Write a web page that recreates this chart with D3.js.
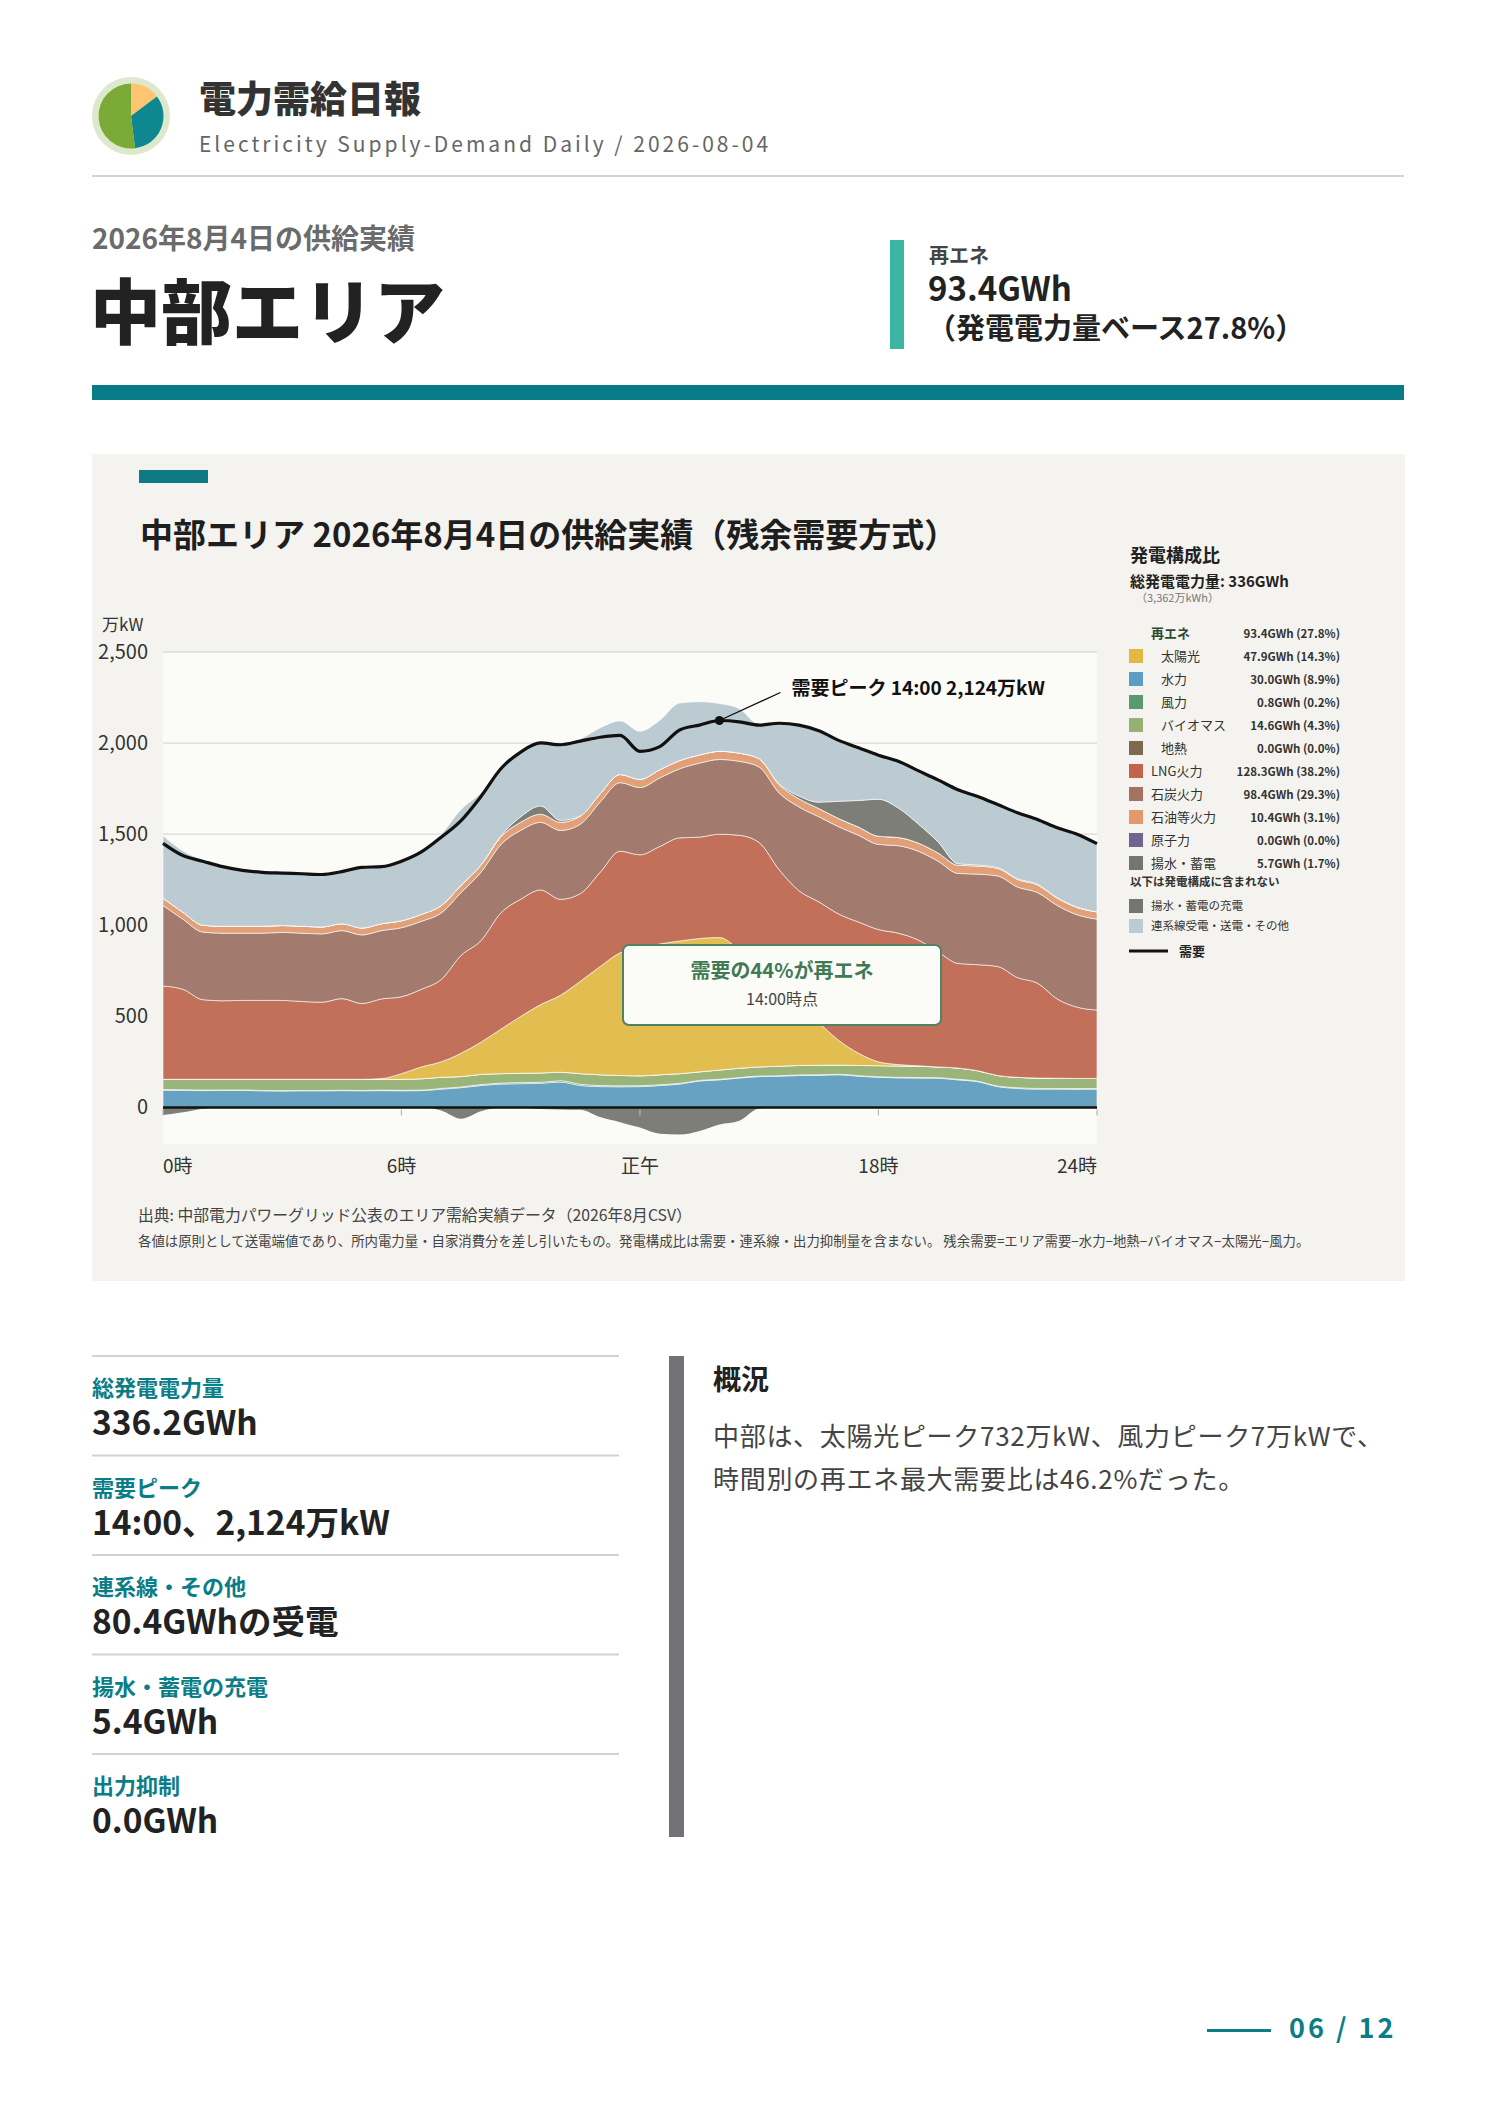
<!DOCTYPE html>
<html lang="ja">
<head>
<meta charset="utf-8">
<title>電力需給日報 中部エリア 2026-08-04</title>
<script src="https://cdn.jsdelivr.net/npm/d3@7"></script>
<style>
  body { margin: 0; background: #fff; }
  svg { display: block; font-family: "Noto Sans CJK JP", "Noto Sans", sans-serif; }
</style>
</head>
<body>
<svg id="page" width="1488" height="2105"></svg>
<script>
// ---- data (万kW, 30-minute slots 0:00 .. 23:30) ----
const slots = ["0:00","0:30","1:00","1:30","2:00","2:30","3:00","3:30","4:00","4:30","5:00","5:30",
  "6:00","6:30","7:00","7:30","8:00","8:30","9:00","9:30","10:00","10:30","11:00","11:30",
  "12:00","12:30","13:00","13:30","14:00","14:30","15:00","15:30","16:00","16:30","17:00","17:30",
  "18:00","18:30","19:00","19:30","20:00","20:30","21:00","21:30","22:00","22:30","23:00","23:30"];

const demand = [1450,1383,1352,1322,1302,1291,1287,1283,1279,1295,1318,1322,1352,1403,1484,1575,1707,1859,1951,2001,1991,2011,2032,2042,
  1955,1981,2072,2099,2124,2117,2099,2109,2099,2068,2015,1975,1934,1900,1849,1798,1744,1707,1663,1618,1581,1535,1500,1448];
const hydro = [95,94,93,94,94,92,91,92,92,93,92,93,92,93,101,109,121,129,131,133,140,121,115,114,
  115,121,129,146,152,162,170,172,176,177,180,172,166,163,162,161,152,142,115,105,101,101,100,101];
const wind = [4,4,3,3,3,2,2,2,2,2,2,3,3,3,4,4,5,5,6,6,7,7,6,5,5,4,4,3,3,3,3,3,3,3,3,3,3,3,3,3,3,3,3,4,4,4,4,4];
const biomass = [56,57,59,58,58,61,62,61,61,60,61,59,60,62,61,57,56,52,51,51,47,58,59,57,
  54,55,53,47,51,51,50,52,52,52,50,56,61,62,62,59,62,57,58,57,57,56,56,55];
const geothermal = [0,0,0,0,0,0,0,0,0,0,0,0,0,0,0,0,0,0,0,0,0,0,0,0,0,0,0,0,0,0,0,0,0,0,0,0,0,0,0,0,0,0,0,0,0,0,0,0];
const solar = [0,0,0,0,0,0,0,0,0,0,0,4,31,65,85,128,177,244,312,375,422,507,594,673,
  700,718,728,732,727,650,560,450,340,235,136,67,21,8,2,0,0,0,0,0,0,0,0,0];
const lng = [512,494,437,431,433,433,433,427,423,443,416,437,422,426,452,537,557,638,643,629,527,481,517,558,
  513,535,566,556,567,628,671,629,619,662,693,720,726,721,691,632,574,582,598,547,521,435,391,375];
const coal = [442,385,371,371,369,369,373,375,375,373,376,375,379,373,365,345,375,375,378,371,378,381,386,376,
  369,376,379,406,410,406,415,421,460,467,479,476,467,480,487,497,494,497,497,497,497,513,507,499];
const oil = [40,38,38,38,38,38,38,38,38,38,38,38,38,38,40,40,40,42,45,45,45,45,45,45,
  45,45,45,45,45,45,45,45,45,45,45,45,45,45,45,45,45,45,42,42,42,40,40,40];
const nuclear = [0,0,0,0,0,0,0,0,0,0,0,0,0,0,0,0,0,0,0,0,0,0,0,0,0,0,0,0,0,0,0,0,0,0,0,0,0,0,0,0,0,0,0,0,0,0,0,0];
const pumpGen = [0,0,0,0,0,0,0,0,0,0,0,0,0,0,0,0,0,5,30,45,10,0,0,0,
  0,0,0,0,0,0,0,5,15,35,95,146,203,162,105,61,8,5,4,4,4,3,3,0];
const interconnect = [342,337,357,327,307,296,288,288,288,286,333,313,327,343,392,416,396,369,355,354,425,423,362,294,
  264,271,316,292,262,244,190,332,389,392,334,290,242,256,292,340,406,376,346,362,355,383,399,374];
const pumpCharge = [41,26,6,0,0,0,0,0,0,0,0,0,0,0,16,61,20,0,0,8,10,12,52,80,
  110,144,148,128,93,72,5,0,0,0,0,0,0,0,0,0,0,0,0,0,0,0,0,0];

const seriesKeys   = ["hydro","wind","biomass","geothermal","solar","lng","coal","oil","nuclear","pumpGen","interconnect"];
const seriesColors = ["#67a2c2","#5a9a6e","#9bb47a","#80684f","#e2bd50","#c3705a","#a27b6e","#e1a077","#6e6690","#7c7e77","#bccbd1"];
const seriesValues = [hydro, wind, biomass, geothermal, solar, lng, coal, oil, nuclear, pumpGen, interconnect];

const yTicks = [0, 500, 1000, 1500, 2000, 2500];
const xTickSlots = [0, 12, 24, 36, 47];
const xTickLabels = ["0時", "6時", "正午", "18時", "24時"];

const legendNames  = ["太陽光","水力","風力","バイオマス","地熱","LNG火力","石炭火力","石油等火力","原子力","揚水・蓄電"];
const legendColors = ["#e2b945","#5a9ec3","#5a9a6e","#96b172","#80684f","#c4634b","#a37263","#e4996a","#6e6690","#737670"];
const legendValues = ["47.9GWh (14.3%)","30.0GWh (8.9%)","0.8GWh (0.2%)","14.6GWh (4.3%)","0.0GWh (0.0%)",
  "128.3GWh (38.2%)","98.4GWh (29.3%)","10.4GWh (3.1%)","0.0GWh (0.0%)","5.7GWh (1.7%)"];
const legendIndent = [true,true,true,true,true,false,false,false,false,false];

const stats = [
  { label: "総発電電力量", value: "336.2GWh" },
  { label: "需要ピーク", value: "14:00、2,124万kW" },
  { label: "連系線・その他", value: "80.4GWhの受電" },
  { label: "揚水・蓄電の充電", value: "5.4GWh" },
  { label: "出力抑制", value: "0.0GWh" }
];

const logoShares = [0.147, 0.333, 0.52];
const logoColors = ["#fdc56f", "#0f8790", "#7bab36"];

const TEAL = "#0a7d87";

// ---- page ----
const svg = d3.select("#page");

// header
const logo = svg.append("g").attr("transform", "translate(131,116)");
logo.append("circle").attr("r", 39).attr("fill", "#dce9cd");
const arc = d3.arc().innerRadius(0).outerRadius(32.5);
logo.selectAll("path")
  .data(d3.pie().sort(null)(logoShares))
  .enter().append("path")
  .attr("d", arc)
  .attr("fill", (d, i) => logoColors[i]);

svg.append("text").attr("x", 199).attr("y", 113)
  .attr("font-size", 37).attr("font-weight", 900).attr("fill", "#333")
  .text("電力需給日報");
svg.append("text").attr("x", 199).attr("y", 152)
  .attr("font-size", 21).attr("fill", "#666").attr("letter-spacing", 3)
  .text("Electricity Supply-Demand Daily / 2026-08-04");
svg.append("rect").attr("x", 92).attr("y", 175).attr("width", 1312).attr("height", 2).attr("fill", "#d4d4d4");

svg.append("text").attr("x", 92).attr("y", 249)
  .attr("font-size", 28).attr("font-weight", 700).attr("fill", "#6b6b6b")
  .text("2026年8月4日の供給実績");
svg.append("text").attr("x", 90).attr("y", 338)
  .attr("font-size", 71).attr("font-weight", 900).attr("fill", "#222")
  .text("中部エリア");

svg.append("rect").attr("x", 890).attr("y", 240).attr("width", 14).attr("height", 109).attr("fill", "#3db5a3");
svg.append("text").attr("x", 929).attr("y", 263)
  .attr("font-size", 20).attr("font-weight", 700).attr("fill", "#444").text("再エネ");
svg.append("text").attr("x", 928).attr("y", 301)
  .attr("font-size", 33).attr("font-weight", 700).attr("fill", "#222").text("93.4GWh");
svg.append("text").attr("x", 927).attr("y", 339)
  .attr("font-size", 29).attr("font-weight", 700).attr("fill", "#222").text("（発電電力量ベース27.8%）");

svg.append("rect").attr("x", 92).attr("y", 385).attr("width", 1312).attr("height", 15).attr("fill", "#077b86");

// chart panel
svg.append("rect").attr("x", 92).attr("y", 454).attr("width", 1313).attr("height", 827).attr("fill", "#f4f3ef");
svg.append("rect").attr("x", 139).attr("y", 470).attr("width", 69).attr("height", 13).attr("fill", "#0f7a84");
svg.append("text").attr("x", 140).attr("y", 547)
  .attr("font-size", 33).attr("font-weight", 700).attr("fill", "#1e1e1e")
  .text("中部エリア 2026年8月4日の供給実績（残余需要方式）");

const x = d3.scaleLinear().domain([0, slots.length - 1]).range([163, 1097]);
const y = d3.scaleLinear().domain([-200, 2500]).range([1144, 652]);

const plot = svg.append("g");
plot.append("rect")
  .attr("x", x(0)).attr("y", y(2500))
  .attr("width", x(slots.length - 1) - x(0)).attr("height", y(-200) - y(2500))
  .attr("fill", "#fbfbf8");

plot.append("g").selectAll("line").data(yTicks.filter(d => d > 0)).enter().append("line")
  .attr("x1", x(0)).attr("x2", x(slots.length - 1))
  .attr("y1", d => y(d)).attr("y2", d => y(d))
  .attr("stroke", "#d9d9d5").attr("stroke-width", 1.3);

const rows = slots.map((s, i) => {
  const r = { slot: s, i };
  seriesKeys.forEach((k, j) => { r[k] = seriesValues[j][i]; });
  return r;
});
const stacked = d3.stack().keys(seriesKeys)(rows);

const area = d3.area()
  .x(d => x(d.data.i))
  .y0(d => y(d[0]))
  .y1(d => y(d[1]))
  .curve(d3.curveMonotoneX);

plot.append("g").selectAll("path").data(stacked).enter().append("path")
  .attr("d", area)
  .attr("fill", (d, i) => seriesColors[i])
  .attr("stroke", "#ffffff").attr("stroke-width", 0.8).attr("stroke-opacity", 0.75);

const chargeArea = d3.area()
  .x((d, i) => x(i))
  .y0(y(0))
  .y1(d => y(-d))
  .curve(d3.curveMonotoneX);
plot.append("path").datum(pumpCharge)
  .attr("d", chargeArea).attr("fill", "#7c7e77");

plot.append("line")
  .attr("x1", x(0)).attr("x2", x(slots.length - 1))
  .attr("y1", y(0)).attr("y2", y(0))
  .attr("stroke", "#111").attr("stroke-width", 2.4);

plot.append("g").selectAll("line").data(xTickSlots).enter().append("line")
  .attr("x1", d => x(d)).attr("x2", d => x(d))
  .attr("y1", y(0) + 2).attr("y2", y(0) + 8)
  .attr("stroke", "#b8b8b4").attr("stroke-width", 1.2);

const line = d3.line()
  .x((d, i) => x(i))
  .y(d => y(d))
  .curve(d3.curveMonotoneX);
plot.append("path").datum(demand)
  .attr("d", line).attr("fill", "none")
  .attr("stroke", "#111").attr("stroke-width", 3.2).attr("stroke-linejoin", "round");

// y axis
const yAxis = d3.axisLeft(y).tickValues(yTicks).tickFormat(d3.format(",")).tickSize(0).tickPadding(15);
const yg = svg.append("g").attr("transform", `translate(${x(0)},0)`).call(yAxis);
yg.select(".domain").remove();
yg.selectAll("text").attr("font-size", 20).attr("fill", "#333")
  .attr("font-family", "\"Noto Sans CJK JP\", \"Noto Sans\", sans-serif");
svg.append("text").attr("x", 102).attr("y", 631)
  .attr("font-size", 17).attr("fill", "#333").text("万kW");

// x labels
svg.append("g").selectAll("text").data(xTickSlots).enter().append("text")
  .attr("x", d => x(d)).attr("y", 1173)
  .attr("text-anchor", (d, i) => i === 0 ? "start" : (i === xTickSlots.length - 1 ? "end" : "middle"))
  .attr("font-size", 19).attr("fill", "#333")
  .text((d, i) => xTickLabels[i]);

// peak annotation
const peakIdx = demand.indexOf(d3.max(demand));
const px = x(peakIdx), py = y(demand[peakIdx]);
svg.append("line").attr("x1", px).attr("y1", py).attr("x2", px + 61).attr("y2", py - 28)
  .attr("stroke", "#111").attr("stroke-width", 1.3);
svg.append("circle").attr("cx", px).attr("cy", py).attr("r", 4.5).attr("fill", "#111");
svg.append("text").attr("x", px + 72).attr("y", py - 26)
  .attr("font-size", 19).attr("font-weight", 700).attr("fill", "#111")
  .text(`需要ピーク ${slots[peakIdx]} ${d3.format(",")(demand[peakIdx])}万kW`);

// renewable share callout
const box = svg.append("g").attr("transform", "translate(623,945)");
box.append("rect").attr("width", 318).attr("height", 80).attr("rx", 6)
  .attr("fill", "#fbfbf7").attr("stroke", "#4e8461").attr("stroke-width", 2);
box.append("text").attr("x", 159).attr("y", 33).attr("text-anchor", "middle")
  .attr("font-size", 20).attr("font-weight", 700).attr("fill", "#3f7a55")
  .text("需要の44%が再エネ");
box.append("text").attr("x", 159).attr("y", 60).attr("text-anchor", "middle")
  .attr("font-size", 16).attr("fill", "#444")
  .text("14:00時点");

// legend
const lg = svg.append("g");
lg.append("text").attr("x", 1130).attr("y", 562).attr("font-size", 18).attr("font-weight", 700).attr("fill", "#222").text("発電構成比");
lg.append("text").attr("x", 1130).attr("y", 587).attr("font-size", 15).attr("font-weight", 700).attr("fill", "#222").text("総発電電力量: 336GWh");
lg.append("text").attr("x", 1136).attr("y", 602).attr("font-size", 11).attr("fill", "#777").text("（3,362万kWh）");

lg.append("text").attr("x", 1151).attr("y", 638).attr("font-size", 13).attr("font-weight", 700).attr("fill", "#2c4a30").text("再エネ");
lg.append("text").attr("x", 1340).attr("y", 638).attr("text-anchor", "end").attr("font-size", 11.5).attr("font-weight", 700).attr("fill", "#333").text("93.4GWh (27.8%)");

const lrow = lg.append("g").selectAll("g").data(legendNames).enter().append("g")
  .attr("transform", (d, i) => `translate(0,${656 + i * 23})`);
lrow.append("rect").attr("x", 1129).attr("y", -7).attr("width", 14).attr("height", 14)
  .attr("fill", (d, i) => legendColors[i]);
lrow.append("text").attr("x", (d, i) => legendIndent[i] ? 1161 : 1151).attr("y", 5)
  .attr("font-size", 13).attr("fill", "#333").text(d => d);
lrow.append("text").attr("x", 1340).attr("y", 5).attr("text-anchor", "end")
  .attr("font-size", 11.5).attr("font-weight", 700).attr("fill", "#333")
  .text((d, i) => legendValues[i]);

lg.append("text").attr("x", 1130).attr("y", 886).attr("font-size", 11.5).attr("font-weight", 700).attr("fill", "#333").text("以下は発電構成に含まれない");
lg.append("rect").attr("x", 1129).attr("y", 899).attr("width", 14).attr("height", 14).attr("fill", "#737670");
lg.append("text").attr("x", 1151).attr("y", 910).attr("font-size", 11.5).attr("fill", "#333").text("揚水・蓄電の充電");
lg.append("rect").attr("x", 1129).attr("y", 919).attr("width", 14).attr("height", 14).attr("fill", "#b9cbd3");
lg.append("text").attr("x", 1151).attr("y", 930).attr("font-size", 11.5).attr("fill", "#333").text("連系線受電・送電・その他");
lg.append("line").attr("x1", 1129).attr("x2", 1168).attr("y1", 951).attr("y2", 951).attr("stroke", "#111").attr("stroke-width", 3);
lg.append("text").attr("x", 1179).attr("y", 956).attr("font-size", 13).attr("font-weight", 700).attr("fill", "#222").text("需要");

// source notes
svg.append("text").attr("x", 138).attr("y", 1221).attr("font-size", 15.8).attr("fill", "#444")
  .text("出典: 中部電力パワーグリッド公表のエリア需給実績データ（2026年8月CSV）");
svg.append("text").attr("x", 138).attr("y", 1246).attr("font-size", 13.4).attr("fill", "#444")
  .text("各値は原則として送電端値であり、所内電力量・自家消費分を差し引いたもの。発電構成比は需要・連系線・出力抑制量を含まない。 残余需要=エリア需要−水力−地熱−バイオマス−太陽光−風力。");

// stats column
const st = svg.append("g").selectAll("g").data(stats).enter().append("g")
  .attr("transform", (d, i) => `translate(92,${1356 + i * 99.5})`);
st.append("rect").attr("x", 0).attr("y", -1).attr("width", 527).attr("height", 2).attr("fill", "#d2d2d2");
st.append("text").attr("x", 0).attr("y", 40).attr("font-size", 22).attr("font-weight", 700).attr("fill", TEAL).text(d => d.label);
st.append("text").attr("x", 0).attr("y", 79).attr("font-size", 33.5).attr("font-weight", 700).attr("fill", "#222").text(d => d.value);

// summary
svg.append("rect").attr("x", 669).attr("y", 1356).attr("width", 15).attr("height", 481).attr("fill", "#707276");
svg.append("text").attr("x", 713).attr("y", 1390).attr("font-size", 28).attr("font-weight", 700).attr("fill", "#222").text("概況");
svg.append("text").attr("x", 713).attr("y", 1446).attr("font-size", 26).attr("letter-spacing", 0.7).attr("fill", "#444")
  .text("中部は、太陽光ピーク732万kW、風力ピーク7万kWで、");
svg.append("text").attr("x", 713).attr("y", 1489).attr("font-size", 26).attr("letter-spacing", 0.7).attr("fill", "#444")
  .text("時間別の再エネ最大需要比は46.2%だった。");

// footer
svg.append("rect").attr("x", 1207).attr("y", 2029).attr("width", 64).attr("height", 3).attr("fill", TEAL);
svg.append("text").attr("x", 1289).attr("y", 2038).attr("font-size", 27).attr("font-weight", 700)
  .attr("letter-spacing", 3).attr("fill", TEAL).text("06 / 12");
</script>
</body>
</html>
